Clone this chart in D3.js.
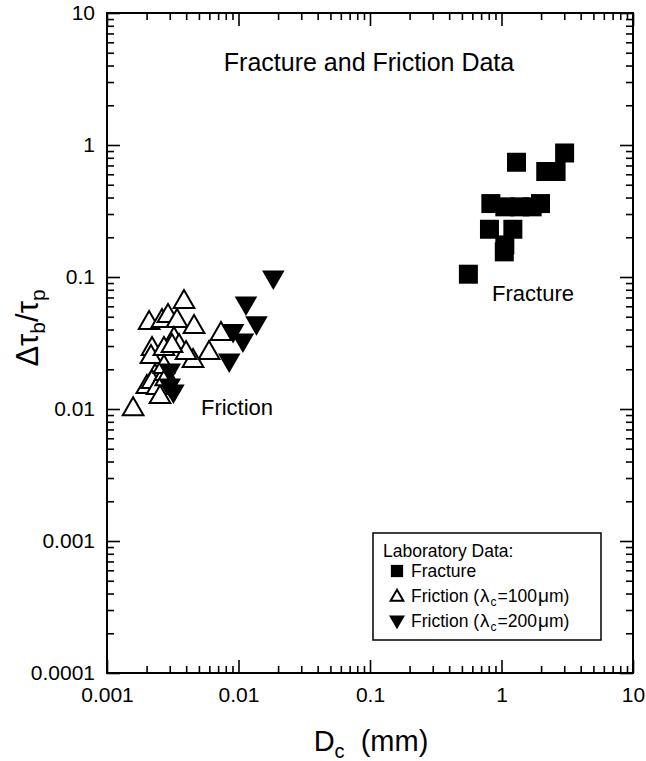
<!DOCTYPE html>
<html><head><meta charset="utf-8">
<script src="https://cdn.jsdelivr.net/npm/d3@7"></script>
<style>
body{margin:0;background:#fff;}
text{font-family:"Liberation Sans",Arial,Helvetica,sans-serif;fill:#000;}
</style></head>
<body><svg id="c" width="646" height="761"></svg>
<script>
// ---- data ----
const fractureDc = [3.02, 1.30, 2.17, 2.60, 0.83, 1.06, 1.38, 1.71, 1.98, 0.81, 1.22, 1.06, 1.05, 0.56];
const fractureRatio = [0.87, 0.74, 0.63, 0.63, 0.36, 0.34, 0.34, 0.34, 0.36, 0.23, 0.23, 0.175, 0.155, 0.105];

const friction100Dc = [0.00158, 0.00385, 0.00209, 0.00262, 0.00291, 0.00341, 0.00459, 0.00736, 0.00597, 0.00451,
  0.00323, 0.00353, 0.00399, 0.00220, 0.00216, 0.00271, 0.00312, 0.00232, 0.00201, 0.00220, 0.00240, 0.00253,
  0.00276, 0.00271, 0.00280];
const friction100Ratio = [0.00997, 0.0647, 0.0448, 0.0464, 0.0506, 0.0464, 0.0418, 0.0370, 0.0266, 0.0231,
  0.0339, 0.0300, 0.0266, 0.0285, 0.0248, 0.0285, 0.0300, 0.0178, 0.0147, 0.0160, 0.0144, 0.0123,
  0.0184, 0.0208, 0.0168];

const friction200Dc = [0.0184, 0.0114, 0.0137, 0.0091, 0.0108, 0.0085, 0.0030, 0.0032, 0.0030];
const friction200Ratio = [0.100, 0.0635, 0.0450, 0.0394, 0.0333, 0.0235, 0.0197, 0.0137, 0.0152];

const xMajor = [0.001, 0.01, 0.1, 1, 10];
const xLabels = ["0.001", "0.01", "0.1", "1", "10"];
const yMajor = [0.0001, 0.001, 0.01, 0.1, 1, 10];
const yLabels = ["0.0001", "0.001", "0.01", "0.1", "1", "10"];

// ---- layout ----
const L = 107, R = 633, T = 13, B = 673;
const svg = d3.select("#c");
const x = d3.scaleLog().domain([0.001, 10]).range([L, R]);
const y = d3.scaleLog().domain([0.0001, 10]).range([B, T]);

function minors(majors){
  const out = [];
  for (let i = 0; i < majors.length - 1; i++)
    for (let k = 2; k <= 9; k++) out.push(majors[i] * k);
  return out;
}
const xMinor = minors(xMajor), yMinor = minors(yMajor);

function styleAxis(g){
  g.select(".domain").remove();
  g.selectAll("line").attr("stroke", "#000").attr("stroke-width", 1.6);
  g.selectAll("text").attr("font-family", "Liberation Sans, Arial, sans-serif").attr("font-size", 21).attr("fill", "#000");
}

// bottom
svg.append("g").attr("transform", `translate(0,${B})`)
  .call(d3.axisBottom(x).tickValues(xMajor).tickSize(-13).tickPadding(14).tickFormat((d, i) => xLabels[i]))
  .call(styleAxis);
svg.append("g").attr("transform", `translate(0,${B})`)
  .call(d3.axisBottom(x).tickValues(xMinor).tickSize(-7).tickFormat(""))
  .call(styleAxis);
// top
svg.append("g").attr("transform", `translate(0,${T})`)
  .call(d3.axisTop(x).tickValues(xMajor).tickSize(-13).tickFormat(""))
  .call(styleAxis);
svg.append("g").attr("transform", `translate(0,${T})`)
  .call(d3.axisTop(x).tickValues(xMinor).tickSize(-7).tickFormat(""))
  .call(styleAxis);
// left
svg.append("g").attr("transform", `translate(${L},0)`)
  .call(d3.axisLeft(y).tickValues(yMajor).tickSize(-13).tickPadding(12).tickFormat((d, i) => yLabels[i]))
  .call(styleAxis);
svg.append("g").attr("transform", `translate(${L},0)`)
  .call(d3.axisLeft(y).tickValues(yMinor).tickSize(-7).tickFormat(""))
  .call(styleAxis);
// right
svg.append("g").attr("transform", `translate(${R},0)`)
  .call(d3.axisRight(y).tickValues(yMajor).tickSize(-13).tickFormat(""))
  .call(styleAxis);
svg.append("g").attr("transform", `translate(${R},0)`)
  .call(d3.axisRight(y).tickValues(yMinor).tickSize(-7).tickFormat(""))
  .call(styleAxis);

// frame
svg.append("rect").attr("x", L).attr("y", T).attr("width", R - L).attr("height", B - T)
  .attr("fill", "none").attr("stroke", "#000").attr("stroke-width", 2);

// ---- markers ----
const triUp = d3.symbol().type(d3.symbolTriangle).size(185);
const sq = d3.symbol().type(d3.symbolSquare).size(361);

svg.append("g").selectAll("path").data(friction100Dc.map((d, i) => [d, friction100Ratio[i]]))
  .join("path").attr("d", triUp)
  .attr("transform", d => `translate(${x(d[0])},${y(d[1])})`)
  .attr("fill", "#fff").attr("stroke", "#000").attr("stroke-width", 2).attr("stroke-linejoin", "miter");

svg.append("g").selectAll("path").data(friction200Dc.map((d, i) => [d, friction200Ratio[i]]))
  .join("path").attr("d", d3.symbol().type(d3.symbolTriangle).size(220))
  .attr("transform", d => `translate(${x(d[0])},${y(d[1])}) rotate(180)`)
  .attr("fill", "#000");

svg.append("g").selectAll("path").data(fractureDc.map((d, i) => [d, fractureRatio[i]]))
  .join("path").attr("d", sq)
  .attr("transform", d => `translate(${x(d[0])},${y(d[1])})`)
  .attr("fill", "#000");

// ---- text ----
svg.append("text").attr("x", 369).attr("y", 71).attr("text-anchor", "middle").attr("font-size", 25)
  .text("Fracture and Friction Data");
svg.append("text").attr("x", 533).attr("y", 301).attr("text-anchor", "middle").attr("font-size", 22)
  .text("Fracture");
svg.append("text").attr("x", 237).attr("y", 415).attr("text-anchor", "middle").attr("font-size", 22)
  .text("Friction");

// x title
const xt = svg.append("text").attr("x", 371).attr("y", 751).attr("text-anchor", "middle").attr("font-size", 29);
xt.append("tspan").text("D");
xt.append("tspan").attr("font-size", 20).attr("dy", 7).text("c");
xt.append("tspan").attr("dy", -7).text("\u00a0 (mm)");

// y title
const yt = svg.append("text").attr("transform", "translate(38,328) rotate(-90)").attr("text-anchor", "middle").attr("font-size", 31);
yt.append("tspan").text("\u0394\u03c4");
yt.append("tspan").attr("font-size", 21).attr("dy", 7).text("b");
yt.append("tspan").attr("dy", -7).text("/\u03c4");
yt.append("tspan").attr("font-size", 21).attr("dy", 7).text("p");

// ---- legend ----
const fs = 17.5;
const lg = svg.append("g");
lg.append("rect").attr("x", 373).attr("y", 533).attr("width", 228).attr("height", 107)
  .attr("fill", "#fff").attr("stroke", "#000").attr("stroke-width", 1.5);
lg.append("text").attr("x", 383).attr("y", 557).attr("font-size", fs).text("Laboratory Data:");
const lx = 397;
lg.append("path").attr("d", d3.symbol().type(d3.symbolSquare).size(150)).attr("transform", `translate(${lx},571)`).attr("fill", "#000");
lg.append("text").attr("x", 411).attr("y", 577).attr("font-size", fs).text("Fracture");
lg.append("path").attr("d", d3.symbol().type(d3.symbolTriangle).size(70)).attr("transform", `translate(${lx},597)`)
  .attr("fill", "#fff").attr("stroke", "#000").attr("stroke-width", 2);
function fricLabel(yy, val){
  const t = lg.append("text").attr("x", 411).attr("y", yy).attr("font-size", fs);
  t.append("tspan").text("Friction (");
  t.append("tspan").attr("font-size", 19).attr("dx", 1).text("\u03bb");
  t.append("tspan").attr("font-size", 12).attr("dy", 4).attr("dx", 1).text("c");
  t.append("tspan").attr("dy", -4).attr("dx", 1).text("=" + val);
  t.append("tspan").attr("font-size", 19).attr("dx", 1).text("\u03bc");
  t.append("tspan").text("m)");
}
fricLabel(602, "100");
lg.append("path").attr("d", d3.symbol().type(d3.symbolTriangle).size(110)).attr("transform", `translate(${lx},620) rotate(180)`).attr("fill", "#000");
fricLabel(627, "200");
</script></body></html>
